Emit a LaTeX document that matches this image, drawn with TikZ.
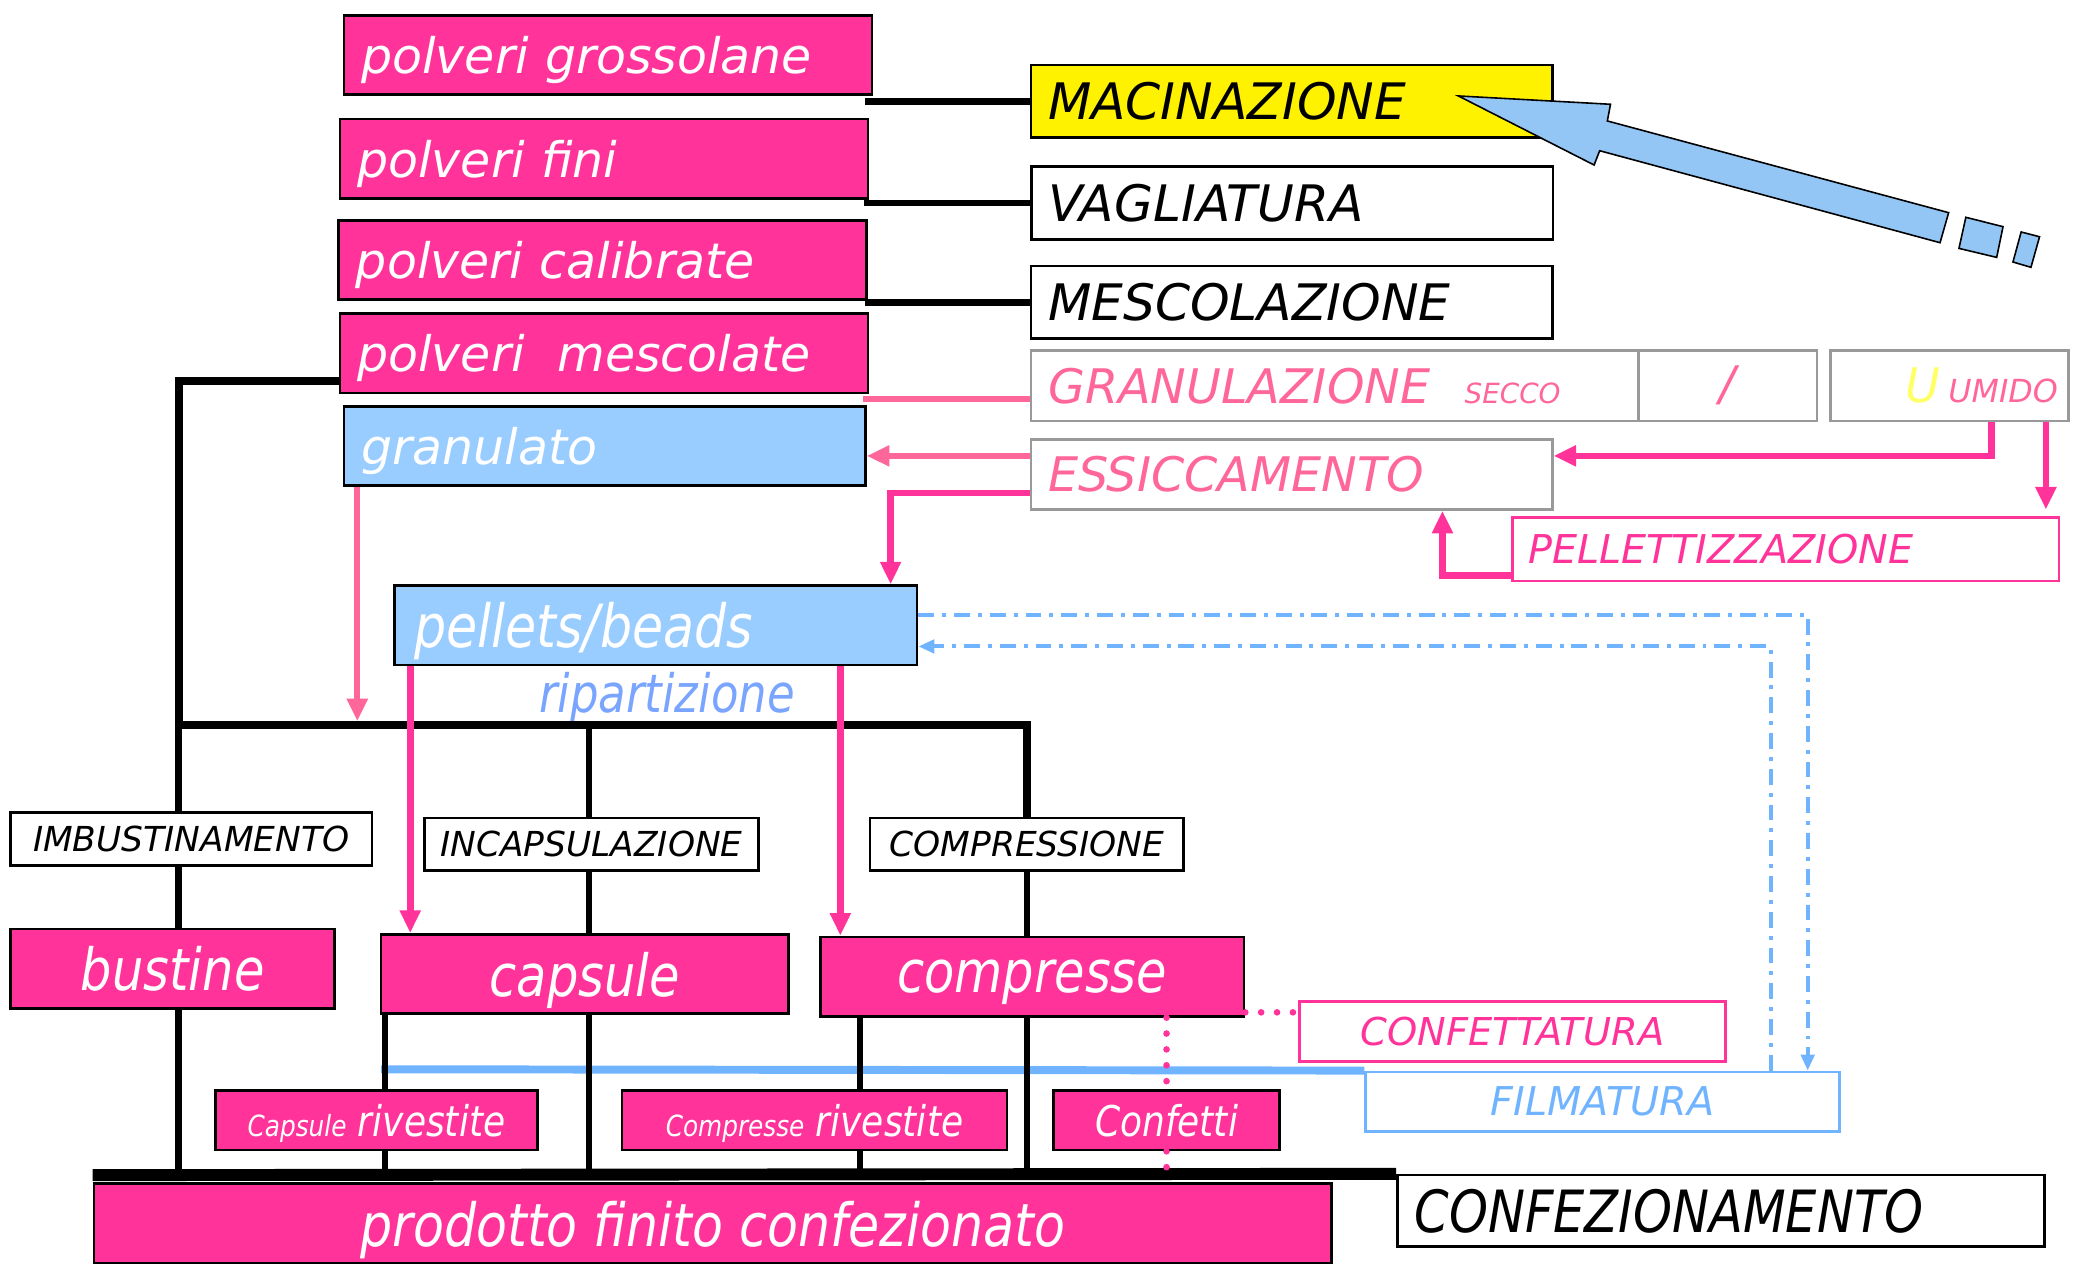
\documentclass[tikz,border=0pt]{standalone}
\usepackage{xcolor}
\usepackage{fontspec}
\usepackage{tikz}
\usetikzlibrary{arrows.meta}

\setmainfont{DejaVu Sans}
\newfontfamily\condfont[FakeStretch=0.85]{DejaVu Sans}
\newcommand{\fsz}[1]{\fontsize{#1}{#1}\selectfont}

\definecolor{magbox}{HTML}{FF3399}
\definecolor{skybox}{HTML}{99CCFF}
\definecolor{rosa}{HTML}{FF6699}
\definecolor{filmblue}{HTML}{70B4FF}
\definecolor{ripblue}{HTML}{7AA5FF}
\definecolor{greyline}{HTML}{999999}
\definecolor{umiyellow}{HTML}{FFFF66}
\definecolor{bigarrow}{HTML}{93C6F4}

\tikzset{
  powder/.style={draw=black, line width=2pt, fill=magbox, text=white, font=\itshape\fsz{37},
    inner xsep=13pt, inner ysep=0pt, minimum height=60pt, align=left, text width=373pt, text depth=0pt},
  grain/.style={powder, fill=skybox, text width=368pt},
  opbox/.style={draw=black, line width=2pt, font=\itshape\fsz{38},
    inner xsep=13pt, inner ysep=0pt, minimum height=55pt, align=left, text width=368pt},
  greybox/.style={opbox, draw=greyline, text=rosa, font=\itshape\fsz{36}, minimum height=53pt},
  product/.style={draw=black, line width=2pt, fill=magbox, text=white, font=\condfont\itshape\fsz{44},
    inner sep=0pt, minimum height=60pt, text depth=0pt},
  coated/.style={product, minimum height=45pt, font=\condfont\itshape\fsz{32}},
  smallop/.style={draw=black, line width=2pt, font=\itshape\fsz{26}, inner sep=0pt, minimum height=40pt},
  blk/.style={draw=black, line width=5pt},
  magarr/.style={draw=magbox, line width=5pt, -{Triangle[length=17pt,width=15pt]}},
  rosarr/.style={draw=rosa, line width=4.5pt, -{Triangle[length=17pt,width=15pt]}},
  dashblue/.style={draw=filmblue, line width=3pt, dash pattern=on 12pt off 6pt on 3pt off 6pt,
    -{Triangle[length=12pt,width=10pt]}},
  dotmag/.style={draw=magbox, line width=5pt, line cap=round, dash pattern=on 0pt off 12pt}
}

\begin{document}
\begin{tikzpicture}[x=1pt,y=-1pt]
\useasboundingbox (0,0) rectangle (1568,960);

% powders
\node[powder] (pg) at (459.5,41.5) {polveri grossolane};
\node[powder] (pf) at (456.5,120) {polveri fini};
\node[powder] (pc) at (455.5,196.5) {polveri calibrate};
\node[powder] (pm) at (456.5,267) {polveri\ \ mescolate};
\node[grain] (gr) at (457,337) {granulato};
\node[grain, font=\condfont\itshape\fsz{45}, inner xsep=15pt, text width=365pt] (pb) at (495.5,472.5) {pellets/beads};

% operations
\node[opbox, fill=yellow] (mac) at (976,76.5) {MACINAZIONE};
\node[opbox] (vag) at (976.5,153.5) {VAGLIATURA};
\node[opbox] (mes) at (976,228.5) {MESCOLAZIONE};
\node[greybox, text width=433pt] (gran) at (1008.5,291.5) {GRANULAZIONE\hspace{26pt}{\fsz{21}SECCO}};
\node[greybox, text width=109pt, align=center] (slash) at (1305.5,291.5) {/};
\node[greybox, inner xsep=8pt, text width=164pt, align=right] (umi) at (1473,291.5) {\textcolor{umiyellow}{U}\,{\fsz{24}UMIDO}};
\node[greybox] (ess) at (976,358.5) {ESSICCAMENTO};
\node[opbox, draw=magbox, text=magbox, font=\itshape\fsz{30}, minimum height=48pt, inner xsep=12pt, text width=389pt] (pel) at (1349.5,415) {PELLETTIZZAZIONE};

% forms
\node[smallop, minimum width=273pt] (imb) at (144.5,634) {IMBUSTINAMENTO};
\node[smallop, minimum width=252pt] (inc) at (447,638) {INCAPSULAZIONE};
\node[smallop, minimum width=237pt] (com) at (776,638) {COMPRESSIONE};
\node[product, minimum width=245pt] (bus) at (130.5,732) {bustine};
\node[product, minimum width=308pt] (cap) at (442,736) {capsule};
\node[product, minimum width=320pt] (cmp) at (780,738) {compresse};
\node[coated, minimum width=243pt] (caprv) at (284.5,846.5) {{\fsz{22}Capsule} rivestite};
\node[coated, minimum width=291pt] (cmprv) at (615.5,846.5) {{\fsz{22}Compresse} rivestite};
\node[coated, minimum width=171pt] (conf) at (881.5,846.5) {Confetti};
\node[product, minimum width=935pt, font=\condfont\itshape\fsz{45}] (prod) at (538.5,924.5) {prodotto finito confezionato};
\node[smallop, minimum width=489pt, minimum height=54pt, inner xsep=13pt, text width=463pt, align=left,
  font=\condfont\itshape\fsz{44}] (cnfz) at (1300.5,915) {CONFEZIONAMENTO};
\node[smallop, draw=magbox, text=magbox, minimum width=322pt, minimum height=45pt, font=\itshape\fsz{29}] (cft) at (1143,779.5) {CONFETTATURA};
\node[smallop, draw=filmblue, text=filmblue, minimum width=358pt, minimum height=45pt, font=\itshape\fsz{30}] (film) at (1211,832.5) {FILMATURA};
\node[text=ripblue, font=\condfont\itshape\fsz{40}, inner sep=0pt] (rip) at (504,527) {ripartizione};

% helper points
\coordinate (c1) at (135,548);
\coordinate (c2) at (291,548);
\coordinate (c3) at (445,548);
\coordinate (c4) at (650,548);
\coordinate (c5) at (776,548);
\coordinate (fin) at (70,888);
\coordinate (coat) at (288,808);
\coordinate (pmL) at ([yshift=-21pt]pm.west);
\coordinate (granL) at ([yshift=-10pt]gran.west);
\coordinate (essU) at ([yshift=14pt]ess.west);
\coordinate (essD) at ([yshift=-14pt]ess.west);
\coordinate (essR) at ([yshift=14pt]ess.east);
\coordinate (essB) at ([xshift=114pt]ess.south);
\coordinate (umiA) at ([xshift=32pt]umi.south);
\coordinate (umiB) at ([xshift=73pt]umi.south);
\coordinate (pelL) at ([yshift=-20pt]pel.west);
\coordinate (pbIn) at ([xshift=-21pt]pb.north east);
\coordinate (grOut) at ([xshift=-187pt]gr.south);
\coordinate (pbA) at ([xshift=-185.5pt]pb.south);
\coordinate (pbB) at ([xshift=139.5pt]pb.south);
\coordinate (pbR1) at ([yshift=8pt]pb.east);
\coordinate (pbR2) at ([yshift=-16pt]pb.east);
\coordinate (filmA) at ([xshift=155pt]film.north);
\coordinate (filmB) at ([xshift=127pt]film.north);
\coordinate (cmpR) at ([yshift=-27pt]cmp.east);

% top links
\draw[blk] (mac.west) -- ([xshift=-3pt]mac.west -| pf.east);
\draw[blk] (vag.west) -- ([xshift=-3pt]vag.west -| pc.east);
\draw[blk] (mes.west) -- ([xshift=-3pt]mes.west -| pm.east);
\draw[draw=rosa, line width=4.5pt] (granL) -- ([xshift=-3pt]granL -| gr.east);
\draw[rosarr] (essU) -- (essU -| gr.east);
\draw[magarr] (essD) -| (pbIn);
\draw[magarr] (umiA) |- (essR);
\draw[magarr, shorten >=5pt] (umiB) -- (umiB |- pel.north);
\draw[magarr] (pelL) -| (essB);

% split bar
\draw[blk, line width=6pt] (pmL) -| (c1) -- (c5) -- (c5 |- com.north);
\draw[blk] (c1) -- (c1 |- imb.north);
\draw[blk] (c3) -- (c3 |- inc.north);
\draw[blk] (c1 |- imb.south) -- (c1 |- bus.north);
\draw[blk] (c3 |- inc.south) -- (c3 |- cap.north);
\draw[blk] (c5 |- com.south) -- (c5 |- cmp.north);
\draw[rosarr, shorten >=3pt] (grOut) -- (grOut |- c1);
\draw[magarr] (pbA) -- (pbA |- cap.north);
\draw[magarr] (pbB) -- (pbB |- cmp.north);

% film coating loop
\draw[dashblue] (pbR1) -| (filmA);
\draw[dashblue] (filmB) |- (pbR2);
\draw[draw=filmblue, line width=6pt] (coat) -- (film.north west);

% to packaging
\draw[blk] (c1 |- bus.south) -- (c1 |- fin);
\draw[blk] (c3 |- cap.south) -- (c3 |- fin);
\draw[blk] (c5 |- cmp.south) -- (c5 |- fin);
\draw[blk] (c2 |- cap.south) -- (c2 |- caprv.north);
\draw[blk] (c2 |- caprv.south) -- (c2 |- fin);
\draw[blk] (c4 |- cmp.south) -- (c4 |- cmprv.north);
\draw[blk] (c4 |- cmprv.south) -- (c4 |- fin);
\draw[blk, line width=9pt] (fin) -- (cnfz.north west);
\draw[dotmag] (cmpR) -- (cmpR -| cft.west);
\draw[dotmag] (cmp.south -| conf.north) -- (conf.north);
\draw[dotmag] (conf.south) -- (conf.south |- fin);

% big arrow
\draw[fill=bigarrow, line width=1.2pt, line join=miter] (1102,72.5) -- (1217,78.8) -- (1214.6,91.4)
  -- (1472.5,160.7) -- (1466,183.4) -- (1208.8,113.9) -- (1204.6,124.7) -- cycle;
\draw[fill=bigarrow, line width=1.2pt] (1485.5,164.2) -- (1513.6,171.3) -- (1508.8,194.5) -- (1480.3,187.7) -- cycle;
\draw[fill=bigarrow, line width=1.2pt] (1527.3,175.3) -- (1541.2,178.9) -- (1534.7,202) -- (1521.1,198) -- cycle;
\end{tikzpicture}
\end{document}
